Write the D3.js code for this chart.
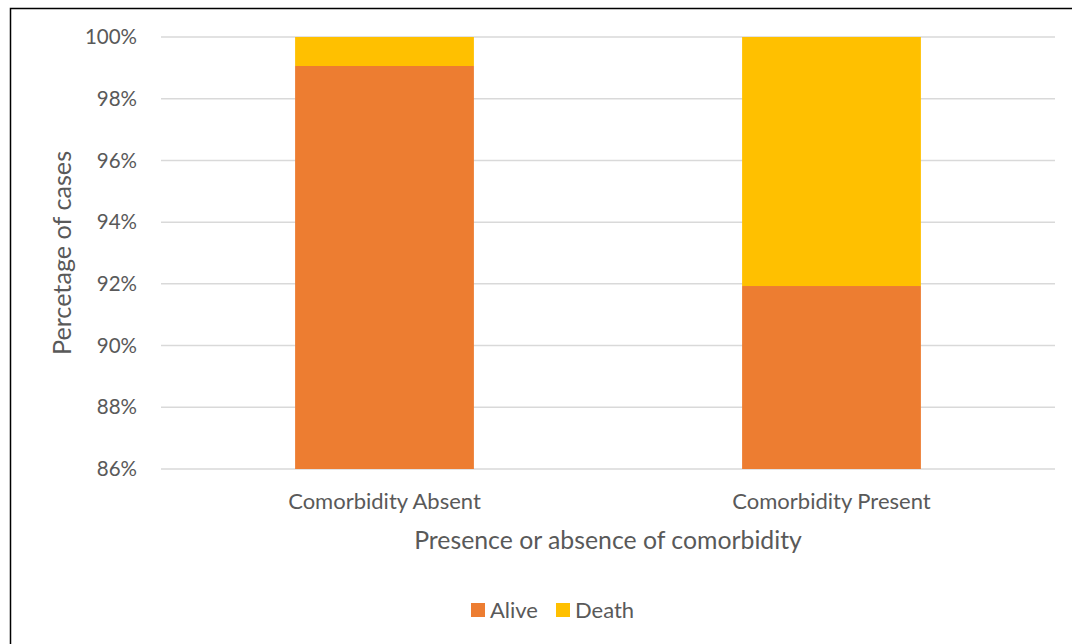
<!DOCTYPE html>
<html><head><meta charset="utf-8">
<script src="https://cdn.jsdelivr.net/npm/d3@7/dist/d3.min.js"></script>
<style>body{margin:0;background:#fff}svg{display:block}</style>
</head><body>
<script>
const categories = ["Comorbidity Absent", "Comorbidity Present"];
const alive = [99.06, 91.93];
const death = [0.94, 8.07];
const seriesNames = ["Alive", "Death"];
const colors = ["#ED7D31", "#FFC000"];
const yTicks = [86, 88, 90, 92, 94, 96, 98, 100];

const W = 1072, H = 644;
const svg = d3.select("body").append("svg").attr("width", W).attr("height", H);
const font = "Lato, sans-serif";

svg.append("rect").attr("x", 10.5).attr("y", 8.5).attr("width", W + 10).attr("height", H + 10)
  .attr("fill", "none").attr("stroke", "#000").attr("stroke-width", 1.5);

const x = d3.scaleBand().domain(categories).range([161, 1055]).paddingInner(0.6).paddingOuter(0.3);
const y = d3.scaleLinear().domain([86, 100]).range([469, 37]);

svg.append("g").selectAll("line").data(yTicks).join("line")
  .attr("x1", 161).attr("x2", 1055).attr("y1", d => y(d)).attr("y2", d => y(d))
  .attr("stroke", "#d9d9d9").attr("stroke-width", 1.5);

svg.append("g").selectAll("text").data(yTicks).join("text")
  .attr("x", 137).attr("y", d => y(d)).attr("dy", "0.35em").attr("text-anchor", "end")
  .attr("font-family", font).attr("font-size", 20.5).attr("fill", "#595959")
  .text(d => d + "%");

const stacked = categories.map((c, i) => ({c, a: alive[i], d: death[i]}));
const g = svg.append("g");
g.selectAll(".alive").data(stacked).join("rect")
  .attr("x", d => x(d.c)).attr("width", x.bandwidth())
  .attr("y", d => y(d.a)).attr("height", d => y(86) - y(d.a)).attr("fill", colors[0]);
g.selectAll(".death").data(stacked).join("rect")
  .attr("x", d => x(d.c)).attr("width", x.bandwidth())
  .attr("y", d => y(Math.min(100, d.a + d.d))).attr("height", d => y(d.a) - y(Math.min(100, d.a + d.d))).attr("fill", colors[1]);

svg.append("g").selectAll("text").data(categories).join("text")
  .attr("x", d => x(d) + x.bandwidth() / 2).attr("y", 501).attr("dy", "0.35em").attr("text-anchor", "middle")
  .attr("font-family", font).attr("font-size", 22).attr("fill", "#595959").text(d => d);

svg.append("text").attr("x", 608).attr("y", 540).attr("dy", "0.35em").attr("text-anchor", "middle")
  .attr("font-family", font).attr("font-size", 24.8).attr("fill", "#595959")
  .text("Presence or absence of comorbidity");

svg.append("text").attr("transform", "translate(62,253) rotate(-90)").attr("dy", "0.35em").attr("text-anchor", "middle")
  .attr("font-family", font).attr("font-size", 25.2).attr("fill", "#595959")
  .text("Percetage of cases");

const legX = [471, 556];
const leg = svg.append("g").selectAll("g").data(seriesNames).join("g");
leg.append("rect").attr("x", (d, i) => legX[i]).attr("y", 603).attr("width", 14).attr("height", 14)
  .attr("fill", (d, i) => colors[i]);
leg.append("text").attr("x", (d, i) => legX[i] + 19).attr("y", 610).attr("dy", "0.35em")
  .attr("font-family", font).attr("font-size", 22).attr("fill", "#595959").text(d => d);
</script>
</body></html>
